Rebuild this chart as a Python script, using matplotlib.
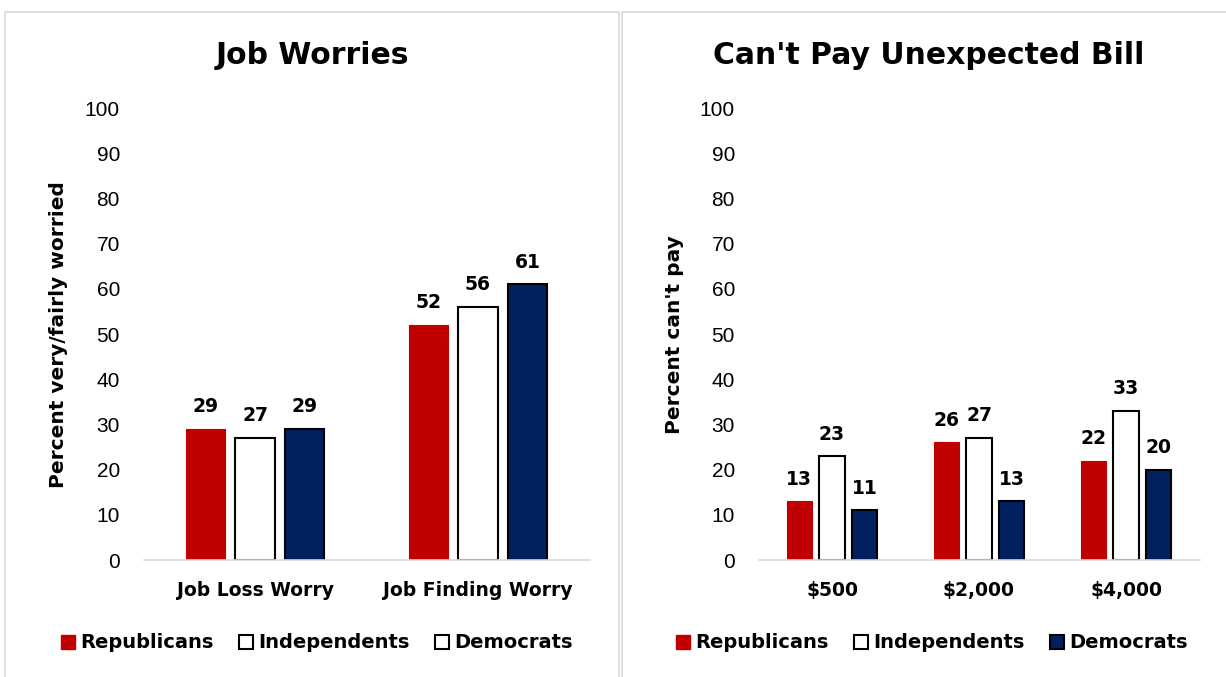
import matplotlib
matplotlib.use("Agg")
import matplotlib.pyplot as plt
from matplotlib.patches import Patch, Rectangle
import numpy as np

plt.rcParams['font.family'] = ['Liberation Sans', 'DejaVu Sans']
BOLD = "DejaVu Sans"

parties = ["Republicans", "Independents", "Democrats"]
red = "#C00000"
navy = "#002060"

job_cats = ["Job Loss Worry", "Job Finding Worry"]
job_rep = [29, 52]
job_ind = [27, 56]
job_dem = [29, 61]

bill_cats = ["$500", "$2,000", "$4,000"]
bill_rep = [13, 26, 22]
bill_ind = [23, 27, 33]
bill_dem = [11, 13, 20]

fig = plt.figure(figsize=(12.26, 6.77), dpi=100)

# panel frames
fig.patches.append(Rectangle((5 / 1226, -0.1), 614 / 1226, 1.1 - 12 / 677,
                             transform=fig.transFigure, fill=False,
                             edgecolor="#d9d9d9", lw=1.2))
fig.patches.append(Rectangle((622 / 1226, -0.1), 0.6, 1.1 - 12 / 677,
                             transform=fig.transFigure, fill=False,
                             edgecolor="#d9d9d9", lw=1.2))

ax1 = fig.add_axes([143.5 / 1226, 1 - 560 / 677, 446 / 1226, 452 / 677])
ax2 = fig.add_axes([758.5 / 1226, 1 - 560 / 677, 441 / 1226, 452 / 677])


def draw(ax, cats, rep, ind, dem, title, title_x, ylabel, label_x,
         legend_dem_color, legend_x):
    x = np.arange(len(cats))
    w = 0.175
    d = 0.222
    b1 = ax.bar(x - d, rep, w, color=red, edgecolor=red, lw=0.8)
    b2 = ax.bar(x, ind, w, color="white", edgecolor="black", lw=1.5)
    b3 = ax.bar(x + d, dem, w, color=navy, edgecolor="black", lw=1.5)
    for bars in (b1, b2, b3):
        for r in bars:
            ax.annotate(f"{r.get_height():.0f}",
                        (r.get_x() + r.get_width() / 2, r.get_height()),
                        xytext=(0, 9), textcoords="offset points",
                        ha="center", va="bottom", fontsize=13.5,
                        fontweight="bold", family=BOLD)
    ax.set_xlim(-0.5, len(cats) - 0.5)
    ax.set_ylim(0, 100)
    ax.set_yticks(range(0, 101, 10))
    ax.set_yticklabels([str(v) for v in range(0, 101, 10)],
                       family="Liberation Sans", fontsize=15)
    ax.set_xticks(x)
    ax.set_xticklabels(cats, fontsize=13.5, fontweight="bold", family=BOLD)
    ax.tick_params(axis="y", length=0, pad=17)
    ax.tick_params(axis="x", length=0, pad=15)
    for s in ("top", "right", "left"):
        ax.spines[s].set_visible(False)
    ax.spines["bottom"].set_color("#d9d9d9")
    ax.spines["bottom"].set_linewidth(1.2)
    fig.text(label_x / 1226, 1 - 335 / 677, ylabel, rotation=90,
             ha="center", va="center", fontsize=14.5, fontweight="bold",
             family=BOLD)
    fig.text(title_x / 1226, 1 - 55 / 677, title, ha="center", va="center",
             fontsize=21.5, fontweight="bold", family=BOLD)
    handles = [Patch(facecolor=red, edgecolor=red),
               Patch(facecolor="white", edgecolor="black", lw=1.5),
               Patch(facecolor=legend_dem_color, edgecolor="black", lw=1.5)]
    fig.legend(handles, parties, loc="center", ncol=3,
               bbox_to_anchor=(legend_x, 1 - 643 / 677), frameon=False,
               prop={"size": 14, "weight": "bold", "family": BOLD},
               handlelength=0.7, handleheight=0.7, handletextpad=0.3,
               columnspacing=1.3)


draw(ax1, job_cats, job_rep, job_ind, job_dem, "Job Worries", 312,
     "Percent very/fairly worried", 58, "white", 317 / 1226)
draw(ax2, bill_cats, bill_rep, bill_ind, bill_dem, "Can't Pay Unexpected Bill",
     929, "Percent can't pay", 675, navy, 932 / 1226)

fig.savefig("out.png", dpi=100)
